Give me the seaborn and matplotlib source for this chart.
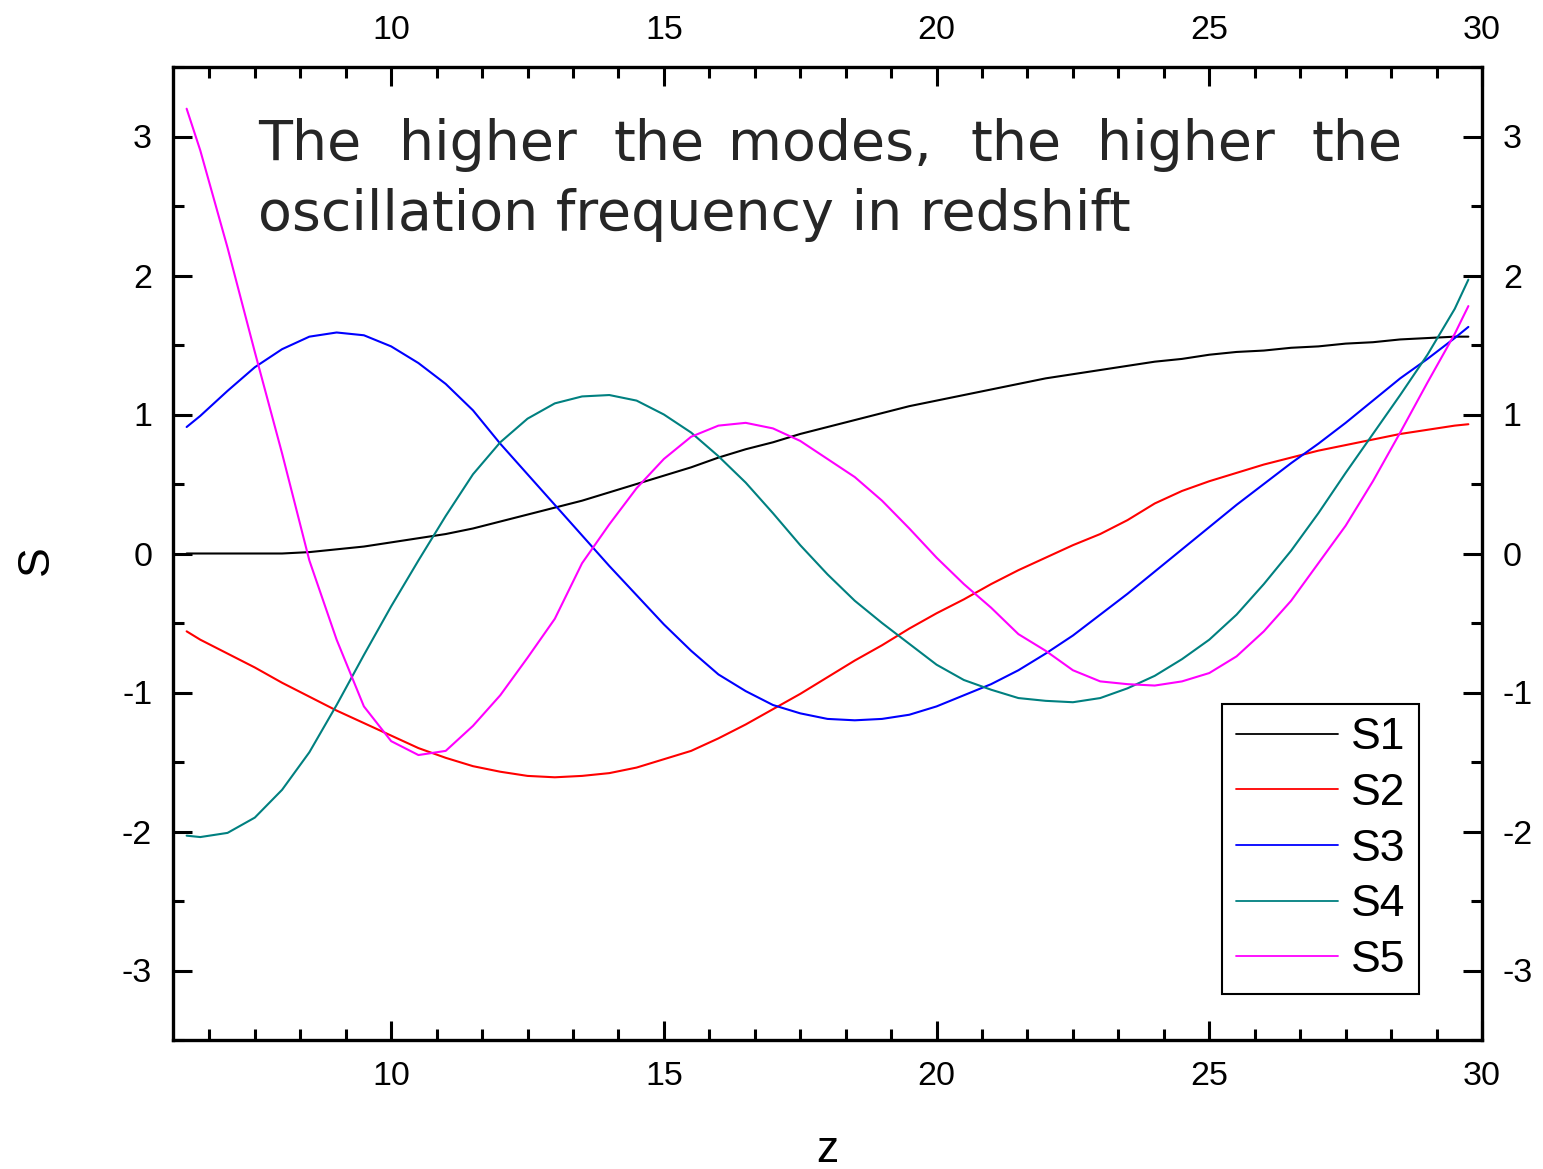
import numpy as np
import pandas as pd
import matplotlib
matplotlib.use("Agg")
import matplotlib.pyplot as plt
from matplotlib.ticker import MultipleLocator
import seaborn as sns

# ---------------- data ----------------
z = [6.25, 6.5, 7.0, 7.5, 8.0, 8.5, 9.0, 9.5, 10.0, 10.5, 11.0, 11.5, 12.0,
     12.5, 13.0, 13.5, 14.0, 14.5, 15.0, 15.5, 16.0, 16.5, 17.0, 17.5, 18.0,
     18.5, 19.0, 19.5, 20.0, 20.5, 21.0, 21.5, 22.0, 22.5, 23.0, 23.5, 24.0,
     24.5, 25.0, 25.5, 26.0, 26.5, 27.0, 27.5, 28.0, 28.5, 29.0, 29.5, 29.75]

S1 = [0.00, 0.00, 0.00, 0.00, 0.00, 0.01, 0.03, 0.05, 0.08, 0.11, 0.14, 0.18,
      0.23, 0.28, 0.33, 0.38, 0.44, 0.50, 0.56, 0.62, 0.69, 0.75, 0.80, 0.86,
      0.91, 0.96, 1.01, 1.06, 1.10, 1.14, 1.18, 1.22, 1.26, 1.29, 1.32, 1.35,
      1.38, 1.40, 1.43, 1.45, 1.46, 1.48, 1.49, 1.51, 1.52, 1.54, 1.55, 1.56, 1.56]

S2 = [-0.56, -0.62, -0.72, -0.82, -0.93, -1.03, -1.13, -1.22, -1.31, -1.40,
      -1.47, -1.53, -1.57, -1.60, -1.61, -1.60, -1.58, -1.54, -1.48, -1.42,
      -1.33, -1.23, -1.12, -1.01, -0.89, -0.77, -0.66, -0.54, -0.43, -0.33,
      -0.22, -0.12, -0.03, 0.06, 0.14, 0.24, 0.36, 0.45, 0.52, 0.58, 0.64,
      0.69, 0.74, 0.78, 0.82, 0.86, 0.89, 0.92, 0.93]

S3 = [0.91, 0.99, 1.17, 1.34, 1.47, 1.56, 1.59, 1.57, 1.49, 1.37, 1.22, 1.03,
      0.79, 0.57, 0.35, 0.13, -0.09, -0.30, -0.51, -0.70, -0.87, -0.99, -1.09,
      -1.15, -1.19, -1.20, -1.19, -1.16, -1.10, -1.02, -0.94, -0.84, -0.72,
      -0.59, -0.44, -0.29, -0.13, 0.03, 0.19, 0.35, 0.50, 0.65, 0.79, 0.94,
      1.10, 1.26, 1.40, 1.55, 1.63]

S4 = [-2.03, -2.04, -2.01, -1.90, -1.70, -1.43, -1.09, -0.73, -0.38, -0.05,
      0.27, 0.57, 0.80, 0.97, 1.08, 1.13, 1.14, 1.10, 1.00, 0.87, 0.70, 0.51,
      0.29, 0.06, -0.15, -0.34, -0.50, -0.65, -0.80, -0.91, -0.98, -1.04,
      -1.06, -1.07, -1.04, -0.97, -0.88, -0.76, -0.62, -0.44, -0.22, 0.02,
      0.29, 0.58, 0.86, 1.14, 1.43, 1.76, 1.97]

S5 = [3.20, 2.90, 2.20, 1.45, 0.72, -0.05, -0.62, -1.10, -1.35, -1.45, -1.42,
      -1.24, -1.02, -0.75, -0.47, -0.07, 0.21, 0.47, 0.68, 0.84, 0.92, 0.94,
      0.90, 0.81, 0.68, 0.55, 0.38, 0.18, -0.03, -0.22, -0.39, -0.58, -0.70,
      -0.84, -0.92, -0.94, -0.95, -0.92, -0.86, -0.74, -0.56, -0.34, -0.07,
      0.20, 0.52, 0.87, 1.23, 1.58, 1.78]

series_names = ["S1", "S2", "S3", "S4", "S5"]
series_values = [S1, S2, S3, S4, S5]
colors = ["#000000", "#ff0000", "#0000ff", "#008080", "#ff00ff"]

x_major = [10, 15, 20, 25, 30]
y_major = [-3, -2, -1, 0, 1, 2, 3]

line1_words = ["The", "higher", "the", "modes,", "the", "higher", "the"]
line2_text = "oscillation frequency in redshift"

# ---------------- build long table ----------------
df = pd.DataFrame({
    "z": np.tile(z, len(series_names)),
    "S": np.concatenate(series_values),
    "series": np.repeat(series_names, len(z)),
})

sns.set_style("ticks")
plt.rcParams["font.family"] = ["Liberation Sans", "DejaVu Sans"]
plt.rcParams["axes.unicode_minus"] = False
plt.rcParams["text.color"] = "black"
plt.rcParams["axes.labelcolor"] = "black"
plt.rcParams["xtick.color"] = "black"
plt.rcParams["ytick.color"] = "black"

W, H = 1543, 1169
fig = plt.figure(figsize=(W / 100, H / 100), dpi=100)
ax_l, ax_r, ax_t, ax_b = 173, 1482, 67, 1040
ax = fig.add_axes([ax_l / W, 1 - ax_b / H, (ax_r - ax_l) / W, (ax_b - ax_t) / H])

sns.lineplot(data=df, x="z", y="S", hue="series", palette=colors,
             hue_order=series_names, linewidth=1.5, sort=False,
             estimator=None, ax=ax)

ax.set_xlim(6, 30)
ax.set_ylim(-3.5, 3.5)
ax.set_xticks(x_major)
ax.set_yticks(y_major)
ax.xaxis.set_minor_locator(MultipleLocator(5 / 6))
ax.yaxis.set_minor_locator(MultipleLocator(0.5))

for sp in ax.spines.values():
    sp.set_visible(True)
    sp.set_linewidth(2.4)
    sp.set_color("black")

ax.tick_params(which="both", direction="in", top=True, right=True,
               labeltop=True, labelright=True, width=2.2, color="black",
               labelcolor="black")
ax.tick_params(which="major", length=14, pad=15, labelsize=24.5)
ax.tick_params(which="minor", length=8)

ax.set_xlabel("z", fontsize=32)
ax.set_ylabel("S", fontsize=32)
ax.xaxis.set_label_coords(0.5, -0.093)
ax.yaxis.set_label_coords(-0.089, 0.493)

# legend
handles, labels = ax.get_legend_handles_labels()
leg = ax.legend(handles=handles[-5:], labels=series_names, loc="upper right",
                bbox_to_anchor=((1419 - ax_l) / (ax_r - ax_l), (ax_b - 704) / (ax_b - ax_t)),
                fontsize=32, frameon=True, fancybox=False, edgecolor="black",
                framealpha=1, handlelength=2.3, handletextpad=0.3,
                labelspacing=0.33, borderpad=0.3, borderaxespad=0)
leg.get_frame().set_linewidth(1.5)
for lh in leg.get_lines():
    lh.set_linewidth(1.3)

# annotation text
word_centers = [310, 488, 659, 830, 1016, 1186, 1357]
for w, cx in zip(line1_words, word_centers):
    fig.text(cx / W, 1 - 160 / H, w, ha="center", va="baseline",
             fontsize=40, color="#262626", family="DejaVu Sans")
fig.text(258 / W, 1 - 230 / H, line2_text, ha="left", va="baseline",
         fontsize=40, color="#262626", family="DejaVu Sans")

fig.savefig("out.png", dpi=100, facecolor="white")
